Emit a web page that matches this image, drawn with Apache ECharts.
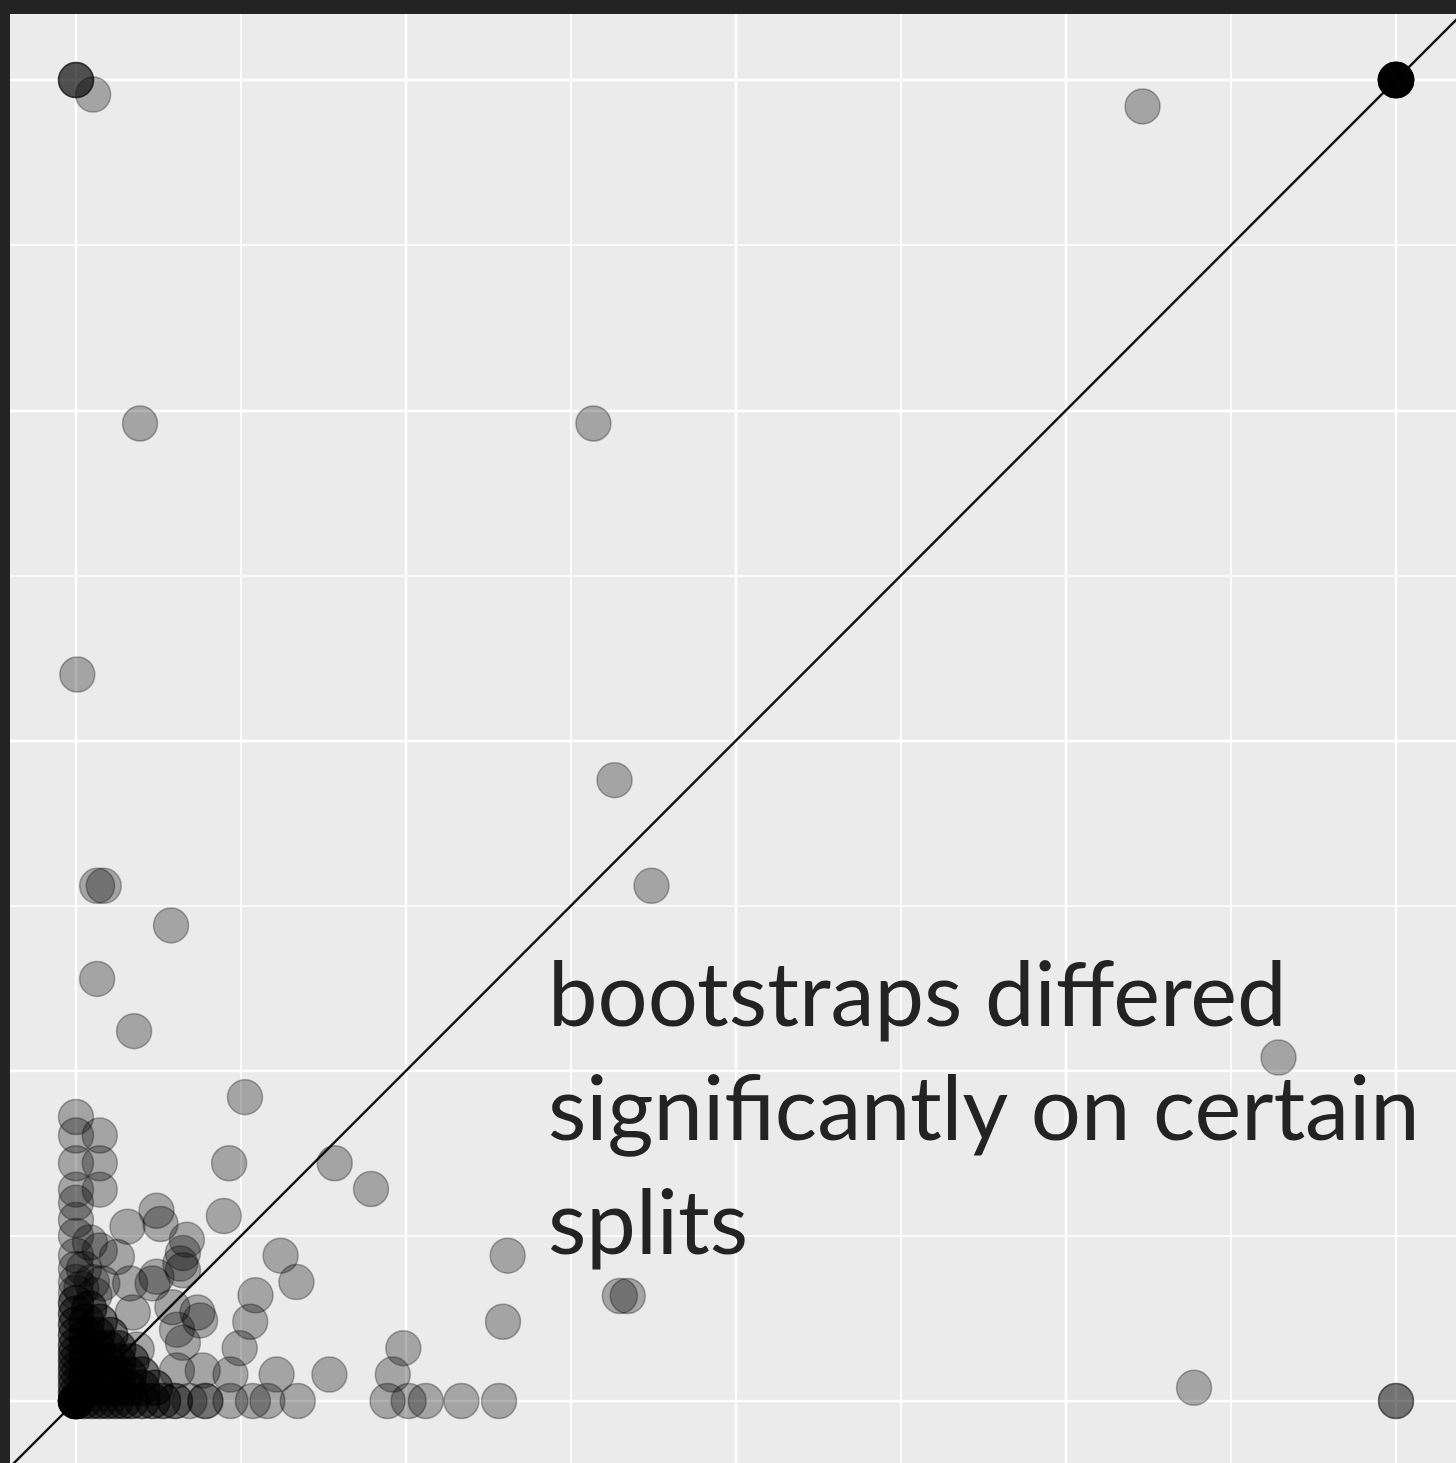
<!DOCTYPE html>
<html>
<head>
<meta charset="utf-8">
<script src="https://cdn.jsdelivr.net/npm/echarts@6/dist/echarts.min.js"></script>
<style>
  html, body { margin: 0; padding: 0; background: #232323; }
  #chart { width: 1456px; height: 1463px; }
</style>
</head>
<body>
<div id="chart"></div>
<script>
// Split support in two bootstrap runs: [run A, run B]
const majorBreaks = [0, 0.25, 0.5, 0.75, 1];
const minorBreaks = [0.125, 0.375, 0.625, 0.875];

// splits that are (almost) always or never recovered
const extremeSplits = [
  [0, 1], [0, 1], [0, 1], [0.013, 0.989], [0.808, 0.980],
  [1, 1], [1, 1], [1, 1], [1, 1], [1, 1], [1, 1],
  [1, 1], [1, 1], [1, 1], [1, 1], [1, 1], [1, 1],
  [0.847, 0.010], [1, 0], [1, 0]
];

// splits scattered across the middle of the range
const scatteredSplits = [
  [0.0485, 0.740], [0.392, 0.740], [0.001, 0.550], [0.408, 0.470],
  [0.016, 0.390], [0.021, 0.390], [0.436, 0.390], [0.072, 0.360],
  [0.016, 0.3195], [0.044, 0.280], [0.128, 0.230], [0.911, 0.260],
  [0.196, 0.180], [0.116, 0.180], [0.2235, 0.1605], [0.112, 0.140],
  [0.327, 0.110], [0.155, 0.110], [0.167, 0.090], [0.3235, 0.060],
  [0.412, 0.0795], [0.418, 0.0795], [0.136, 0.080], [0.132, 0.060],
  [0.248, 0.040], [0.124, 0.040], [0.192, 0.020], [0.240, 0.020],
  [0.152, 0.020], [0.117, 0.020],
  [0.236, 0], [0.252, 0], [0.265, 0], [0.292, 0], [0.3205, 0],
  [0.168, 0], [0.145, 0], [0.134, 0], [0.117, 0]
];

// low-support splits near the origin
const lowSplits = [
  [0, 0.215], [0, 0.201], [0, 0.180], [0, 0.160], [0, 0.150], [0, 0.137],
  [0, 0.125], [0, 0.110], [0.018, 0.201], [0.018, 0.180], [0.018, 0.160],
  [0.0106, 0.120], [0.039, 0.132], [0.061, 0.144], [0.064, 0.134],
  [0.084, 0.122], [0.081, 0.112], [0.031, 0.109], [0.018, 0.114],
  [0.041, 0.089], [0.058, 0.089], [0.081, 0.099], [0.043, 0.067],
  [0.020, 0.089], [0.092, 0.067], [0.073, 0.071], [0.0765, 0.054],
  [0.094, 0.061], [0.081, 0.044], [0.0765, 0.023], [0.096, 0.023],
  [0.046, 0.039], [0.061, 0.094], [0.079, 0.104], [0.012, 0.090], [0.006, 0.100],
  [0.014, 0.080], [0.004, 0.085]
];

// splits (almost) never recovered in either run
const cornerSplits = [
  [0, 0], [0, 0], [0, 0], [0, 0], [0, 0], [0, 0], [0, 0], [0, 0], [0, 0], [0, 0],
  [0, 0.006], [0, 0.006], [0, 0.012], [0, 0.012], [0, 0.018], [0, 0.018],
  [0, 0.024], [0, 0.024], [0, 0.030], [0, 0.030], [0, 0.036], [0, 0.036],
  [0, 0.042], [0, 0.042], [0, 0.050], [0, 0.050], [0, 0.058], [0, 0.058],
  [0, 0.066], [0, 0.066], [0, 0.074], [0, 0.074], [0, 0.082], [0, 0.090], [0, 0.100],
  [0.006, 0], [0.006, 0], [0.012, 0], [0.012, 0], [0.018, 0], [0.018, 0],
  [0.024, 0], [0.024, 0], [0.030, 0], [0.030, 0], [0.036, 0], [0.036, 0],
  [0.042, 0], [0.042, 0], [0.050, 0], [0.050, 0], [0.058, 0], [0.058, 0],
  [0.066, 0], [0.066, 0], [0.075, 0], [0.075, 0], [0.086, 0], [0.098, 0], [0.098, 0],
  [0.008, 0.010], [0.016, 0.010], [0.024, 0.010], [0.032, 0.010], [0.040, 0.010],
  [0.050, 0.010], [0.060, 0.010],
  [0.008, 0.010], [0.016, 0.010], [0.024, 0.010], [0.032, 0.010], [0.040, 0.010],
  [0.050, 0.010], [0.060, 0.010],
  [0.008, 0.020], [0.016, 0.020], [0.024, 0.020], [0.032, 0.020], [0.040, 0.020],
  [0.050, 0.020],
  [0.008, 0.020], [0.016, 0.020], [0.024, 0.020], [0.032, 0.020], [0.040, 0.020],
  [0.050, 0.020],
  [0.008, 0.030], [0.016, 0.030], [0.024, 0.030], [0.032, 0.030], [0.042, 0.030],
  [0.008, 0.030], [0.016, 0.030], [0.024, 0.030], [0.032, 0.030], [0.042, 0.030],
  [0.008, 0.040], [0.016, 0.040], [0.024, 0.040], [0.032, 0.040],
  [0.008, 0.040], [0.016, 0.040], [0.024, 0.040], [0.032, 0.040],
  [0.008, 0.050], [0.016, 0.050], [0.026, 0.050],
  [0.008, 0.050], [0.016, 0.050], [0.026, 0.050],
  [0.008, 0.060], [0.018, 0.060], [0.008, 0.060], [0.018, 0.060],
  [0.010, 0.070], [0.010, 0.070]
];

const noteLines = ['bootstraps differed', 'significantly on certain', 'splits'];

const allSplits = extremeSplits.concat(scatteredSplits, lowSplits, cornerSplits);

const gridLines = []
  .concat(majorBreaks.map(v => ({ xAxis: v, lineStyle: { width: 2.4 } })))
  .concat(majorBreaks.map(v => ({ yAxis: v, lineStyle: { width: 2.4 } })))
  .concat(minorBreaks.map(v => ({ xAxis: v, lineStyle: { width: 1.7 } })))
  .concat(minorBreaks.map(v => ({ yAxis: v, lineStyle: { width: 1.7 } })));

const chart = echarts.init(document.getElementById('chart'), null, { renderer: 'canvas' });

chart.setOption({
  animation: false,
  backgroundColor: '#232323',
  grid: {
    left: 10, right: 0, top: 14, bottom: 0,
    show: true, backgroundColor: '#EBEBEB', borderWidth: 0
  },
  xAxis: {
    type: 'value', min: -0.05, max: 1.04545,
    axisLine: { show: false }, axisTick: { show: false },
    axisLabel: { show: false }, splitLine: { show: false }
  },
  yAxis: {
    type: 'value', min: -0.04694, max: 1.05,
    axisLine: { show: false }, axisTick: { show: false },
    axisLabel: { show: false }, splitLine: { show: false }
  },
  graphic: [{
    type: 'text',
    left: 548,
    top: 940,
    silent: true,
    z: 10,
    style: {
      text: noteLines.join('\n'),
      font: '88.5px Lato',
      fill: '#232323',
      lineHeight: 114
    }
  }],
  series: [
    {
      type: 'line',
      data: [],
      silent: true,
      z: 1,
      markLine: {
        silent: true,
        z: 1,
        precision: 6,
        symbol: ['none', 'none'],
        label: { show: false },
        lineStyle: { color: '#FFFFFF', type: 'solid' },
        data: gridLines
      }
    },
    {
      type: 'line',
      data: [[-0.06, -0.06], [1.06, 1.06]],
      showSymbol: false,
      silent: true,
      clip: true,
      z: 2,
      lineStyle: { color: '#141414', width: 2.4 }
    },
    {
      type: 'scatter',
      data: allSplits,
      symbol: 'circle',
      symbolSize: 35,
      silent: true,
      z: 3,
      itemStyle: {
        color: 'rgba(0,0,0,0.3)',
        borderColor: 'rgba(0,0,0,0.3)',
        borderWidth: 1.5,
        opacity: 1
      }
    }
  ]
});
</script>
</body>
</html>
